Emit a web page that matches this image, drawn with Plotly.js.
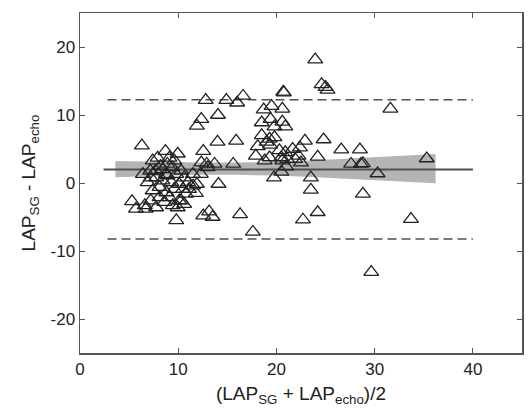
<!DOCTYPE html>
<html>
<head>
<meta charset="utf-8">
<script src="https://cdn.plot.ly/plotly-3.0.1.min.js"></script>
<style>html,body{margin:0;padding:0;background:#fff;}#chart{width:529px;height:410px;}</style>
</head>
<body>
<div id="chart"></div>
<script>
// Bland-Altman points: mean of the two methods (x) and difference (y)
const meanVals = [
  23.95, 24.6, 25.0, 25.2, 20.7, 20.75, 31.6, 12.8, 14.9, 16.0, 16.6, 12.35, 11.9, 14.05, 14.0, 15.9,
  18.7, 19.5, 20.6, 18.5, 19.4, 19.8, 20.6, 20.9, 18.5, 19.3, 19.8, 18.1, 19.0, 19.35, 17.9, 18.8,
  19.3, 20.3, 20.9, 21.65, 22.9, 24.8, 26.6, 28.5, 22.4, 22.25, 21.9, 21.1, 20.5, 22.5, 24.2, 27.6,
  28.6, 28.8, 35.3, 30.3, 23.5, 23.5, 28.8, 20.5, 19.75, 21.0, 20.6, 24.2, 22.7, 33.7, 29.65, 17.6,
  16.3, 15.6, 13.7, 13.0, 12.9, 12.55, 12.35, 14.1, 12.3, 13.15, 13.5, 12.55, 11.5, 11.8,
  6.3, 5.3, 5.7, 6.6, 7.2, 7.75, 6.7, 9.8, 9.95, 10.1, 8.7, 9.95, 7.4, 7.15, 7.7, 8.2, 8.9, 9.4,
  7.75, 6.9, 8.4, 8.9, 9.3, 9.8, 10.3, 10.6, 10.1, 9.6, 8.8, 8.1, 9.1, 10.5, 11.0, 11.1, 11.5, 11.9,
  10.8, 10.3, 10.6, 9.45, 8.6, 8.1, 7.4, 8.75, 7.9, 9.1, 9.6, 6.4, 7.2, 8.4
];
const diffVals = [
  18.15, 14.5, 14.1, 13.7, 13.4, 13.3, 10.9, 12.2, 12.2, 11.8, 12.8, 9.4, 8.4, 10.0, 6.05, 6.2,
  10.8, 11.3, 10.9, 8.9, 9.4, 8.3, 9.0, 8.3, 7.0, 6.5, 6.7, 5.4, 6.05, 5.6, 4.0, 3.3,
  3.75, 4.8, 4.5, 5.0, 6.2, 6.4, 4.9, 4.9, 5.2, 4.0, 3.5, 3.5, 3.75, 3.0, 3.85, 2.8,
  2.8, 2.9, 3.6, 1.4, 0.8, -1.0, -1.6, 1.65, 0.8, 2.4, 3.3, -4.3, -5.4, -5.3, -13.1, -7.2,
  -4.6, 2.8, 2.8, 2.3, 2.8, 4.7, 3.0, -0.15, 1.3, -4.2, -5.0, -4.8, 1.3, -1.5,
  5.5, -2.7, -3.8, -3.3, -2.6, -3.6, -3.8, -5.5, -3.6, -2.6, 4.7, 4.3, 3.3, 1.8, 1.8, 2.5, 2.8, 2.3,
  0.8, 0.1, 0.35, 1.1, 0.1, 1.3, 1.8, 0.8, -0.15, -0.9, -1.4, -0.6, -2.1, -0.9, 0.1, -0.9, -0.4, -0.15,
  -1.6, -2.6, -3.1, -3.3, -2.8, -2.1, -1.1, 1.3, 3.7, 3.7, 3.3, 1.3, 0.8, 2.0
];

// bias and limits of agreement
const biasVal = 2.0;
const upperLoA = 12.25;
const lowerLoA = -8.25;
const biasX = [2.4, 40];
const loaX = [2.8, 40];

// confidence band of the regression of difference on mean
const bandX = [3.6, 8, 12, 16, 20, 24, 28, 32, 36.2];
const bandUpper = [3.25, 3.1, 3.0, 3.0, 3.1, 3.35, 3.65, 3.95, 4.25];
const bandLower = [0.85, 1.05, 1.2, 1.2, 1.1, 0.85, 0.55, 0.25, -0.05];

const xTicks = [0, 10, 20, 30, 40];
const yTicks = [-20, -10, 0, 10, 20];

const axisColor = '#555555';
const traces = [
  {x: bandX, y: bandLower, mode: 'lines', line: {width: 0, color: 'rgba(0,0,0,0)'}, hoverinfo: 'skip', showlegend: false},
  {x: bandX, y: bandUpper, mode: 'lines', fill: 'tonexty', fillcolor: '#b4b4b4', line: {width: 0, color: 'rgba(0,0,0,0)'}, hoverinfo: 'skip', showlegend: false},
  {x: biasX, y: biasX.map(() => biasVal), mode: 'lines', line: {color: '#505050', width: 2}, showlegend: false},
  {x: loaX, y: loaX.map(() => upperLoA), mode: 'lines', line: {color: '#505050', width: 1.5, dash: '9px,5px'}, showlegend: false},
  {x: loaX, y: loaX.map(() => lowerLoA), mode: 'lines', line: {color: '#505050', width: 1.5, dash: '9px,5px'}, showlegend: false},
  {x: meanVals, y: diffVals, mode: 'markers', type: 'scatter',
   marker: {symbol: 'triangle-up-open', size: 13, color: '#222222', line: {width: 1.3, color: '#222222'}}, showlegend: false}
];

const layout = {
  width: 529, height: 410,
  margin: {l: 80, r: 7, t: 13, b: 57},
  paper_bgcolor: '#ffffff', plot_bgcolor: '#ffffff',
  font: {family: 'Liberation Sans, Arial, sans-serif', size: 17, color: '#222222'},
  showlegend: false,
  xaxis: {
    range: [0, 45], tickvals: xTicks, ticktext: xTicks.map(String),
    showgrid: false, zeroline: false, showline: true, linecolor: axisColor, linewidth: 1.5,
    mirror: 'ticks', ticks: 'inside', ticklen: 5, tickcolor: axisColor, tickwidth: 1,
    tickfont: {size: 17, color: '#222222'},
    title: {text: '(LAP<sub>SG</sub> + LAP<sub>echo</sub>)/2', font: {size: 19, color: '#222222'}, standoff: 9}
  },
  yaxis: {
    range: [-25, 25], tickvals: yTicks, ticktext: yTicks.map(String),
    showgrid: false, zeroline: false, showline: true, linecolor: axisColor, linewidth: 1.5,
    mirror: 'ticks', ticks: 'inside', ticklen: 5, tickcolor: axisColor, tickwidth: 1,
    tickfont: {size: 17, color: '#222222'},
    title: {text: 'LAP<sub>SG</sub> - LAP<sub>echo</sub>', font: {size: 19, color: '#222222'}, standoff: 10}
  }
};

Plotly.newPlot('chart', traces, layout, {displayModeBar: false, staticPlot: true});
</script>
</body>
</html>
